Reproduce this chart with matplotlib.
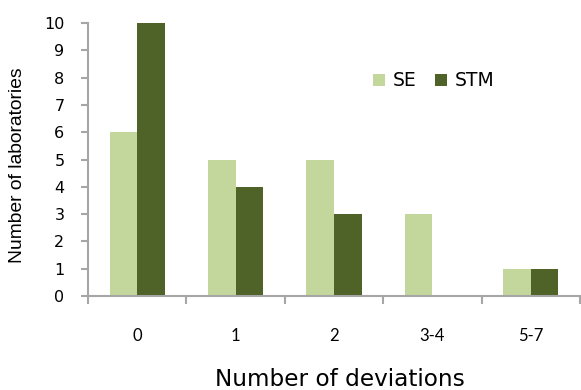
import matplotlib
matplotlib.use("Agg")
import matplotlib.pyplot as plt
import numpy as np

categories = ["0", "1", "2", "3-4", "5-7"]
se_values = [6, 5, 5, 3, 1]
stm_values = [10, 4, 3, 0, 1]
series_names = ["SE", "STM"]

se_color = "#c3d69b"
stm_color = "#4f6228"
axis_color = "#a6a6a6"

plt.rcParams["font.family"] = ["DejaVu Sans"]

fig = plt.figure(figsize=(5.81, 3.90), dpi=100)
ax = fig.add_axes([88 / 581, 1 - 296 / 390, (580 - 88) / 581, (296 - 23) / 390])

x = np.arange(len(categories))
w = 0.28
ax.bar(x - w / 2, se_values, width=w, color=se_color, label=series_names[0], zorder=2)
ax.bar(x + w / 2, stm_values, width=w, color=stm_color, label=series_names[1], zorder=2)

ax.set_xlim(-0.5, len(categories) - 0.5)
ax.set_ylim(0, 10)
ax.set_yticks(range(0, 11))
ax.set_xticks(x)
ax.set_xticklabels(categories, family=["Lato", "DejaVu Sans"])
ax.set_xticks(np.arange(-0.5, len(categories) + 0.5, 1), minor=True)

for s in ["top", "right"]:
    ax.spines[s].set_visible(False)
for s in ["left", "bottom"]:
    ax.spines[s].set_color(axis_color)
    ax.spines[s].set_linewidth(1.5)

ax.tick_params(axis="y", which="major", length=5, width=1.5, color=axis_color,
               labelsize=11.5, pad=12, labelcolor="#000000")
ax.tick_params(axis="x", which="major", length=0, labelsize=12, pad=23)
ax.tick_params(axis="x", which="minor", length=6, width=1.5, color=axis_color)

fig.text(18 / 581, 1 - 165 / 390, "Number of laboratories", fontsize=13.9,
         family=["Liberation Sans", "DejaVu Sans"], rotation=90,
         ha="center", va="center")
fig.text(340 / 581, 1 - 379 / 390, "Number of deviations", fontsize=16.7,
         ha="center", va="center")

ax.legend(loc="center left", bbox_to_anchor=(373 / 581, 1 - 81 / 390),
          bbox_transform=fig.transFigure, ncol=2, frameon=False, fontsize=13.5,
          handlelength=0.64, handleheight=0.64, handletextpad=0.4,
          columnspacing=1.0, borderaxespad=0, borderpad=0)

fig.savefig("out.png", dpi=100)
